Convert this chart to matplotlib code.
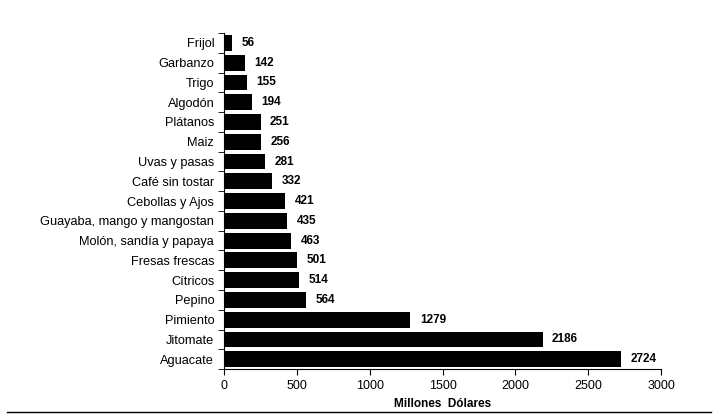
import numpy as np
import matplotlib
matplotlib.use('Agg')
from matplotlib import pyplot as plt
from matplotlib.lines import Line2D

productos = ['Frijol', 'Garbanzo', 'Trigo', 'Algodón', 'Plátanos', 'Maiz',
             'Uvas y pasas', 'Café sin tostar', 'Cebollas y Ajos',
             'Guayaba, mango y mangostan', 'Molón, sandía y papaya',
             'Fresas frescas', 'Cítricos', 'Pepino', 'Pimiento', 'Jitomate',
             'Aguacate']
valores = [56, 142, 155, 194, 251, 256, 281, 332, 421, 435, 463, 501, 514,
           564, 1279, 2186, 2724]

plt.rcParams['font.family'] = ['Liberation Sans', 'DejaVu Sans']

fig = plt.figure(figsize=(7.19, 4.18), dpi=100)
ax = fig.add_axes([0.3115, 0.117, 0.608, 0.804])

y = np.arange(len(productos))
ax.barh(y, valores, height=0.8, color='black')
for yi, v in zip(y, valores):
    ax.text(v + 65, yi, str(v), va='center', ha='left', fontsize=8.5,
            fontweight='bold')

ax.set_xlim(0, 3000)
ax.set_ylim(len(productos) - 0.5, -0.5)
ax.set_xticks(np.arange(0, 3001, 500))
ax.set_yticks(y)
ax.set_yticklabels(productos, fontsize=9.2)
ax.set_yticks(np.arange(-0.5, len(productos)), minor=True)
ax.tick_params(axis='y', which='major', length=0, pad=7)
ax.tick_params(axis='y', which='minor', length=4, direction='out')
ax.tick_params(axis='x', labelsize=9, length=4, direction='out', pad=4)

for s in ['top', 'right']:
    ax.spines[s].set_visible(False)

ax.set_xlabel('Millones  Dólares', fontsize=8.5, fontweight='bold', labelpad=4)

fig.add_artist(Line2D([0.01, 0.989], [0.0144, 0.0144], color='black',
                      lw=1, transform=fig.transFigure))

plt.savefig('out.png', dpi=100)
